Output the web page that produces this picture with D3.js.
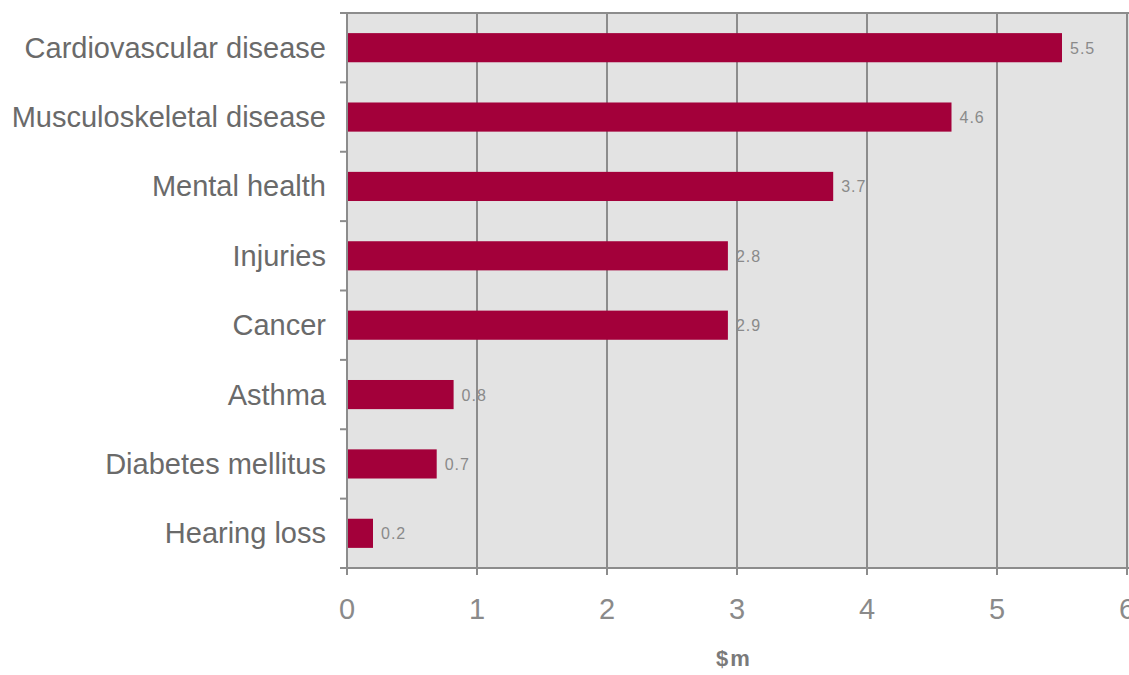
<!DOCTYPE html>
<html><head><meta charset="utf-8">
<script src="https://cdn.jsdelivr.net/npm/d3@7"></script>
<style>body{margin:0;background:#fff}svg{display:block}</style>
</head><body><svg id="c" width="1129" height="675"></svg>
<script>
const categories = ["Cardiovascular disease","Musculoskeletal disease","Mental health","Injuries","Cancer","Asthma","Diabetes mellitus","Hearing loss"];
const values = [5.5, 4.65, 3.74, 2.93, 2.93, 0.82, 0.69, 0.2];
const valueLabels = ["5.5","4.6","3.7","2.8","2.9","0.8","0.7","0.2"];
const xTicks = [0,1,2,3,4,5,6];
const axisTitle = "$m";

(function(){
const svg = d3.select("#c");
const pL = 347, pR = 1127, pT = 13, pB = 568;
const font = "Liberation Sans, Arial, sans-serif";
const x = d3.scaleLinear().domain([0,6]).range([pL,pR]);
const y = d3.scaleBand().domain(categories).range([pT,pB]).paddingInner(0.58).paddingOuter(0.29);
const grey = "#8c8c8c", txt = "#6a6a6a";

svg.append("rect").attr("x",pL).attr("y",pT).attr("width",1129-pL).attr("height",pB-pT).attr("fill","#e3e3e3");
svg.selectAll("line.g").data(xTicks.slice(1)).join("line")
  .attr("x1",d=>x(d)).attr("x2",d=>x(d)).attr("y1",pT).attr("y2",pB+7)
  .attr("stroke",grey).attr("stroke-width",2);
svg.append("line").attr("x1",pL-7).attr("x2",1129).attr("y1",pT).attr("y2",pT).attr("stroke",grey).attr("stroke-width",2);
svg.selectAll("rect.b").data(categories).join("rect")
  .attr("x",pL).attr("y",d=>y(d)).attr("height",y.bandwidth())
  .attr("width",(d,i)=>x(values[i])-pL).attr("fill","#a3003a");
svg.selectAll("text.v").data(categories).join("text")
  .attr("x",(d,i)=>x(values[i])+8).attr("y",d=>y(d)+y.bandwidth()/2+6)
  .attr("font-family",font).attr("font-size",16).attr("letter-spacing",1).attr("fill","#8a8a8a")
  .text((d,i)=>valueLabels[i]);
const step = y.step(), off = (step - y.bandwidth())/2;
const bounds = categories.map(c=>y(c)-off).concat([pB]);
svg.append("line").attr("x1",pL).attr("x2",pL).attr("y1",pT).attr("y2",pB+7).attr("stroke",grey).attr("stroke-width",2);
svg.selectAll("line.t").data(bounds).join("line")
  .attr("x1",pL-7).attr("x2",pL).attr("y1",d=>d).attr("y2",d=>d).attr("stroke",grey).attr("stroke-width",2);
svg.append("line").attr("x1",pL-7).attr("x2",1129).attr("y1",pB).attr("y2",pB).attr("stroke",grey).attr("stroke-width",2);
svg.selectAll("text.c").data(categories).join("text")
  .attr("x",326).attr("y",d=>y(d)+y.bandwidth()/2+10)
  .attr("text-anchor","end").attr("font-family",font).attr("font-size",29).attr("fill",txt)
  .text(d=>d);
svg.selectAll("text.x").data(xTicks).join("text")
  .attr("x",d=>x(d)).attr("y",619).attr("text-anchor","middle")
  .attr("font-family",font).attr("font-size",29).attr("fill","#8a8a8a")
  .text(d=>d);
svg.append("text").attr("x",734).attr("y",666).attr("text-anchor","middle")
  .attr("font-family",font).attr("font-size",22).attr("font-weight","bold").attr("letter-spacing",2).attr("fill","#7a7a7a")
  .text(axisTitle);
})();
</script></body></html>
